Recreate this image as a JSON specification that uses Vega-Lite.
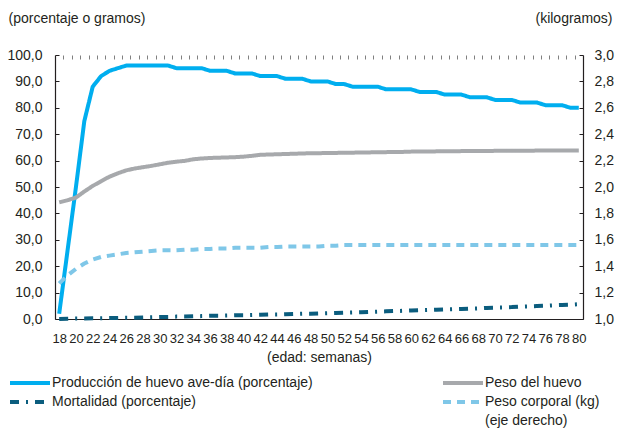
{
"$schema": "https://vega.github.io/schema/vega-lite/v6.json",
"width": 528, "height": 264,
"autosize": "none",
"padding": {"left": 55, "top": 55, "right": 36, "bottom": 111},
"background": "white",
"config": {
  "view": {"stroke": null},
  "font": "Liberation Sans",
  "axis": {"grid": false, "domainColor": "#231f20", "domainWidth": 1.2, "labelColor": "#231f20", "titleColor": "#231f20", "tickColor": "#231f20", "labelFontSize": 14, "titleFontSize": 14, "titleFontWeight": "normal"},
  "legend": {"labelFontSize": 14, "labelColor": "#231f20", "labelFont": "Liberation Sans"}
},
"data": {"values": [
{"w":18,"s":"prod","v":2},{"w":19,"s":"prod","v":26},{"w":20,"s":"prod","v":50},{"w":21,"s":"prod","v":75},{"w":22,"s":"prod","v":88},{"w":23,"s":"prod","v":92},{"w":24,"s":"prod","v":94},{"w":25,"s":"prod","v":95},{"w":26,"s":"prod","v":96},{"w":27,"s":"prod","v":96},{"w":28,"s":"prod","v":96},{"w":29,"s":"prod","v":96},{"w":30,"s":"prod","v":96},{"w":31,"s":"prod","v":96},{"w":32,"s":"prod","v":95},{"w":33,"s":"prod","v":95},{"w":34,"s":"prod","v":95},{"w":35,"s":"prod","v":95},{"w":36,"s":"prod","v":94},{"w":37,"s":"prod","v":94},{"w":38,"s":"prod","v":94},{"w":39,"s":"prod","v":93},{"w":40,"s":"prod","v":93},{"w":41,"s":"prod","v":93},{"w":42,"s":"prod","v":92},{"w":43,"s":"prod","v":92},{"w":44,"s":"prod","v":92},{"w":45,"s":"prod","v":91},{"w":46,"s":"prod","v":91},{"w":47,"s":"prod","v":91},{"w":48,"s":"prod","v":90},{"w":49,"s":"prod","v":90},{"w":50,"s":"prod","v":90},{"w":51,"s":"prod","v":89},{"w":52,"s":"prod","v":89},{"w":53,"s":"prod","v":88},{"w":54,"s":"prod","v":88},{"w":55,"s":"prod","v":88},{"w":56,"s":"prod","v":88},{"w":57,"s":"prod","v":87},{"w":58,"s":"prod","v":87},{"w":59,"s":"prod","v":87},{"w":60,"s":"prod","v":87},{"w":61,"s":"prod","v":86},{"w":62,"s":"prod","v":86},{"w":63,"s":"prod","v":86},{"w":64,"s":"prod","v":85},{"w":65,"s":"prod","v":85},{"w":66,"s":"prod","v":85},{"w":67,"s":"prod","v":84},{"w":68,"s":"prod","v":84},{"w":69,"s":"prod","v":84},{"w":70,"s":"prod","v":83},{"w":71,"s":"prod","v":83},{"w":72,"s":"prod","v":83},{"w":73,"s":"prod","v":82},{"w":74,"s":"prod","v":82},{"w":75,"s":"prod","v":82},{"w":76,"s":"prod","v":81},{"w":77,"s":"prod","v":81},{"w":78,"s":"prod","v":81},{"w":79,"s":"prod","v":80},{"w":80,"s":"prod","v":80},
{"w":18,"s":"huevo","v":44.2},{"w":19,"s":"huevo","v":45.0},{"w":20,"s":"huevo","v":46.0},{"w":21,"s":"huevo","v":48.3},{"w":22,"s":"huevo","v":50.4},{"w":23,"s":"huevo","v":52.2},{"w":24,"s":"huevo","v":53.9},{"w":25,"s":"huevo","v":55.2},{"w":26,"s":"huevo","v":56.3},{"w":27,"s":"huevo","v":57.0},{"w":28,"s":"huevo","v":57.5},{"w":29,"s":"huevo","v":58.0},{"w":30,"s":"huevo","v":58.6},{"w":31,"s":"huevo","v":59.2},{"w":32,"s":"huevo","v":59.6},{"w":33,"s":"huevo","v":59.9},{"w":34,"s":"huevo","v":60.5},{"w":35,"s":"huevo","v":60.8},{"w":36,"s":"huevo","v":61.0},{"w":37,"s":"huevo","v":61.1},{"w":38,"s":"huevo","v":61.2},{"w":39,"s":"huevo","v":61.3},{"w":40,"s":"huevo","v":61.5},{"w":41,"s":"huevo","v":61.8},{"w":42,"s":"huevo","v":62.2},{"w":43,"s":"huevo","v":62.3},{"w":44,"s":"huevo","v":62.4},{"w":45,"s":"huevo","v":62.5},{"w":46,"s":"huevo","v":62.6},{"w":47,"s":"huevo","v":62.7},{"w":48,"s":"huevo","v":62.8},{"w":49,"s":"huevo","v":62.8},{"w":50,"s":"huevo","v":62.9},{"w":51,"s":"huevo","v":62.9},{"w":52,"s":"huevo","v":63.0},{"w":53,"s":"huevo","v":63.0},{"w":54,"s":"huevo","v":63.1},{"w":55,"s":"huevo","v":63.1},{"w":56,"s":"huevo","v":63.2},{"w":57,"s":"huevo","v":63.2},{"w":58,"s":"huevo","v":63.3},{"w":59,"s":"huevo","v":63.3},{"w":60,"s":"huevo","v":63.4},{"w":61,"s":"huevo","v":63.4},{"w":62,"s":"huevo","v":63.4},{"w":63,"s":"huevo","v":63.5},{"w":64,"s":"huevo","v":63.5},{"w":65,"s":"huevo","v":63.5},{"w":66,"s":"huevo","v":63.6},{"w":67,"s":"huevo","v":63.6},{"w":68,"s":"huevo","v":63.6},{"w":69,"s":"huevo","v":63.6},{"w":70,"s":"huevo","v":63.7},{"w":71,"s":"huevo","v":63.7},{"w":72,"s":"huevo","v":63.7},{"w":73,"s":"huevo","v":63.7},{"w":74,"s":"huevo","v":63.7},{"w":75,"s":"huevo","v":63.8},{"w":76,"s":"huevo","v":63.8},{"w":77,"s":"huevo","v":63.8},{"w":78,"s":"huevo","v":63.8},{"w":79,"s":"huevo","v":63.8},{"w":80,"s":"huevo","v":63.8},
{"w":18,"s":"mort","v":0.0},{"w":19,"s":"mort","v":0.1},{"w":20,"s":"mort","v":0.2},{"w":21,"s":"mort","v":0.2},{"w":22,"s":"mort","v":0.3},{"w":23,"s":"mort","v":0.3},{"w":24,"s":"mort","v":0.4},{"w":25,"s":"mort","v":0.4},{"w":26,"s":"mort","v":0.5},{"w":27,"s":"mort","v":0.5},{"w":28,"s":"mort","v":0.6},{"w":29,"s":"mort","v":0.7},{"w":30,"s":"mort","v":0.8},{"w":31,"s":"mort","v":0.8},{"w":32,"s":"mort","v":0.9},{"w":33,"s":"mort","v":0.9},{"w":34,"s":"mort","v":1.0},{"w":35,"s":"mort","v":1.1},{"w":36,"s":"mort","v":1.2},{"w":37,"s":"mort","v":1.2},{"w":38,"s":"mort","v":1.3},{"w":39,"s":"mort","v":1.4},{"w":40,"s":"mort","v":1.4},{"w":41,"s":"mort","v":1.5},{"w":42,"s":"mort","v":1.6},{"w":43,"s":"mort","v":1.7},{"w":44,"s":"mort","v":1.7},{"w":45,"s":"mort","v":1.8},{"w":46,"s":"mort","v":1.9},{"w":47,"s":"mort","v":2.0},{"w":48,"s":"mort","v":2.0},{"w":49,"s":"mort","v":2.1},{"w":50,"s":"mort","v":2.2},{"w":51,"s":"mort","v":2.3},{"w":52,"s":"mort","v":2.4},{"w":53,"s":"mort","v":2.5},{"w":54,"s":"mort","v":2.6},{"w":55,"s":"mort","v":2.7},{"w":56,"s":"mort","v":2.8},{"w":57,"s":"mort","v":2.9},{"w":58,"s":"mort","v":3.0},{"w":59,"s":"mort","v":3.1},{"w":60,"s":"mort","v":3.2},{"w":61,"s":"mort","v":3.3},{"w":62,"s":"mort","v":3.4},{"w":63,"s":"mort","v":3.5},{"w":64,"s":"mort","v":3.6},{"w":65,"s":"mort","v":3.7},{"w":66,"s":"mort","v":3.8},{"w":67,"s":"mort","v":3.9},{"w":68,"s":"mort","v":4.0},{"w":69,"s":"mort","v":4.2},{"w":70,"s":"mort","v":4.3},{"w":71,"s":"mort","v":4.4},{"w":72,"s":"mort","v":4.5},{"w":73,"s":"mort","v":4.7},{"w":74,"s":"mort","v":4.8},{"w":75,"s":"mort","v":4.9},{"w":76,"s":"mort","v":5.0},{"w":77,"s":"mort","v":5.2},{"w":78,"s":"mort","v":5.3},{"w":79,"s":"mort","v":5.4},{"w":80,"s":"mort","v":5.6},
{"w":18,"s":"corp","v":1.27},{"w":19,"s":"corp","v":1.33},{"w":20,"s":"corp","v":1.38},{"w":21,"s":"corp","v":1.42},{"w":22,"s":"corp","v":1.45},{"w":23,"s":"corp","v":1.47},{"w":24,"s":"corp","v":1.48},{"w":25,"s":"corp","v":1.49},{"w":26,"s":"corp","v":1.50},{"w":27,"s":"corp","v":1.505},{"w":28,"s":"corp","v":1.51},{"w":29,"s":"corp","v":1.515},{"w":30,"s":"corp","v":1.52},{"w":31,"s":"corp","v":1.52},{"w":32,"s":"corp","v":1.52},{"w":33,"s":"corp","v":1.525},{"w":34,"s":"corp","v":1.525},{"w":35,"s":"corp","v":1.53},{"w":36,"s":"corp","v":1.53},{"w":37,"s":"corp","v":1.535},{"w":38,"s":"corp","v":1.535},{"w":39,"s":"corp","v":1.54},{"w":40,"s":"corp","v":1.54},{"w":41,"s":"corp","v":1.54},{"w":42,"s":"corp","v":1.54},{"w":43,"s":"corp","v":1.545},{"w":44,"s":"corp","v":1.545},{"w":45,"s":"corp","v":1.55},{"w":46,"s":"corp","v":1.55},{"w":47,"s":"corp","v":1.55},{"w":48,"s":"corp","v":1.55},{"w":49,"s":"corp","v":1.55},{"w":50,"s":"corp","v":1.555},{"w":51,"s":"corp","v":1.555},{"w":52,"s":"corp","v":1.56},{"w":53,"s":"corp","v":1.56},{"w":54,"s":"corp","v":1.56},{"w":55,"s":"corp","v":1.56},{"w":56,"s":"corp","v":1.56},{"w":57,"s":"corp","v":1.56},{"w":58,"s":"corp","v":1.56},{"w":59,"s":"corp","v":1.56},{"w":60,"s":"corp","v":1.56},{"w":61,"s":"corp","v":1.56},{"w":62,"s":"corp","v":1.56},{"w":63,"s":"corp","v":1.56},{"w":64,"s":"corp","v":1.56},{"w":65,"s":"corp","v":1.56},{"w":66,"s":"corp","v":1.56},{"w":67,"s":"corp","v":1.56},{"w":68,"s":"corp","v":1.56},{"w":69,"s":"corp","v":1.56},{"w":70,"s":"corp","v":1.56},{"w":71,"s":"corp","v":1.56},{"w":72,"s":"corp","v":1.56},{"w":73,"s":"corp","v":1.56},{"w":74,"s":"corp","v":1.56},{"w":75,"s":"corp","v":1.56},{"w":76,"s":"corp","v":1.56},{"w":77,"s":"corp","v":1.56},{"w":78,"s":"corp","v":1.56},{"w":79,"s":"corp","v":1.56},{"w":80,"s":"corp","v":1.56}
]},
"layer": [
  {
    "transform": [{"filter": "datum.s != 'corp'"}],
    "mark": {"type": "line", "strokeCap": "butt", "strokeJoin": "round"},
    "encoding": {
      "x": {"field": "w", "type": "quantitative", "scale": {"domain": [17.5, 80.5], "nice": false, "zero": false},
        "axis": {"values": [18,20,22,24,26,28,30,32,34,36,38,40,42,44,46,48,50,52,54,56,58,60,62,64,66,68,70,72,74,76,78,80], "ticks": false, "labelFontSize": 13, "labelPadding": 13, "labelFlush": false, "title": "(edad: semanas)", "titleBaseline": "middle", "titleY": 38}},
      "y": {"field": "v", "type": "quantitative", "scale": {"domain": [0, 100], "nice": false, "zero": false},
        "axis": {"values": [0,10,20,30,40,50,60,70,80,90,100], "labelExpr": "replace(format(datum.value, '.1f'), '.', ',')", "tickSize": -4, "labelPadding": 17, "title": "(porcentaje o gramos)", "titleAngle": 0, "titleAlign": "left", "titleBaseline": "middle", "titleX": -47, "titleY": -37}},
      "color": {"field": "s", "type": "nominal",
        "scale": {"domain": ["prod", "huevo", "mort", "corp"], "range": ["#00aeef", "#a7a9ac", "#0b5d7e", "#7fc7e8"]},
        "legend": {"orient": "none", "legendX": -47, "legendY": 321, "direction": "horizontal", "columns": 2, "columnPadding": 122, "rowPadding": 3, "title": null, "symbolType": "M-4,0H4", "symbolSize": 100, "symbolOffset": 15, "symbolStrokeWidth": 3, "labelOffset": 15, "labelLimit": 400, "padding": 0,
          "labelExpr": "{'prod': 'Producción de huevo ave-día (porcentaje)', 'huevo': 'Peso del huevo', 'mort': 'Mortalidad (porcentaje)', 'corp': ['Peso corporal (kg)', '(eje derecho)']}[datum.label]",
          "encode": {"symbols": {"update": {"strokeWidth": {"signal": "datum.value == 'prod' || datum.value == 'huevo' ? 4 : 2.2"}}}, "labels": {"update": {"lineHeight": {"value": 19}}}}}},
      "strokeDash": {"field": "s", "type": "nominal",
        "scale": {"domain": ["prod", "huevo", "mort", "corp"], "range": [[1, 0], [1, 0], [9, 7, 2, 7], [8, 6]]}},
      "strokeWidth": {"field": "s", "type": "ordinal", "legend": null,
        "scale": {"domain": ["prod", "huevo", "mort", "corp"], "range": [4, 4, 2.2, 2.3]}}
    }
  },
  {
    "transform": [{"filter": "datum.s == 'corp'"}],
    "mark": {"type": "line", "strokeCap": "butt", "strokeJoin": "round"},
    "encoding": {
      "x": {"field": "w", "type": "quantitative", "scale": {"domain": [17.5, 80.5], "nice": false, "zero": false},
        "axis": {"values": [18.5,19.5,20.5,21.5,22.5,23.5,24.5,25.5,26.5,27.5,28.5,29.5,30.5,31.5,32.5,33.5,34.5,35.5,36.5,37.5,38.5,39.5,40.5,41.5,42.5,43.5,44.5,45.5,46.5,47.5,48.5,49.5,50.5,51.5,52.5,53.5,54.5,55.5,56.5,57.5,58.5,59.5,60.5,61.5,62.5,63.5,64.5,65.5,66.5,67.5,68.5,69.5,70.5,71.5,72.5,73.5,74.5,75.5,76.5,77.5,78.5,79.5], "labels": false, "domain": false, "tickSize": -4, "tickColor": "#808080", "title": null}},
      "y": {"field": "v", "type": "quantitative", "scale": {"domain": [1, 3], "nice": false, "zero": false},
        "axis": {"orient": "right", "values": [1,1.2,1.4,1.6,1.8,2,2.2,2.4,2.6,2.8,3], "labelExpr": "replace(format(datum.value, '.1f'), '.', ',')", "tickSize": -4, "labelPadding": 15, "title": "(kilogramos)", "titleAngle": 0, "titleAlign": "right", "titleBaseline": "middle", "titleX": 29, "titleY": -37}},
      "color": {"field": "s", "type": "nominal",
        "scale": {"domain": ["prod", "huevo", "mort", "corp"], "range": ["#00aeef", "#a7a9ac", "#0b5d7e", "#7fc7e8"]}},
      "strokeDash": {"field": "s", "type": "nominal",
        "scale": {"domain": ["prod", "huevo", "mort", "corp"], "range": [[1, 0], [1, 0], [9, 7, 2, 7], [8, 6]]}},
      "strokeWidth": {"field": "s", "type": "ordinal", "legend": null,
        "scale": {"domain": ["prod", "huevo", "mort", "corp"], "range": [4, 4, 2.2, 2.3]}}
    }
  }
],
"resolve": {"scale": {"y": "independent"}, "axis": {"x": "independent"}}
}
